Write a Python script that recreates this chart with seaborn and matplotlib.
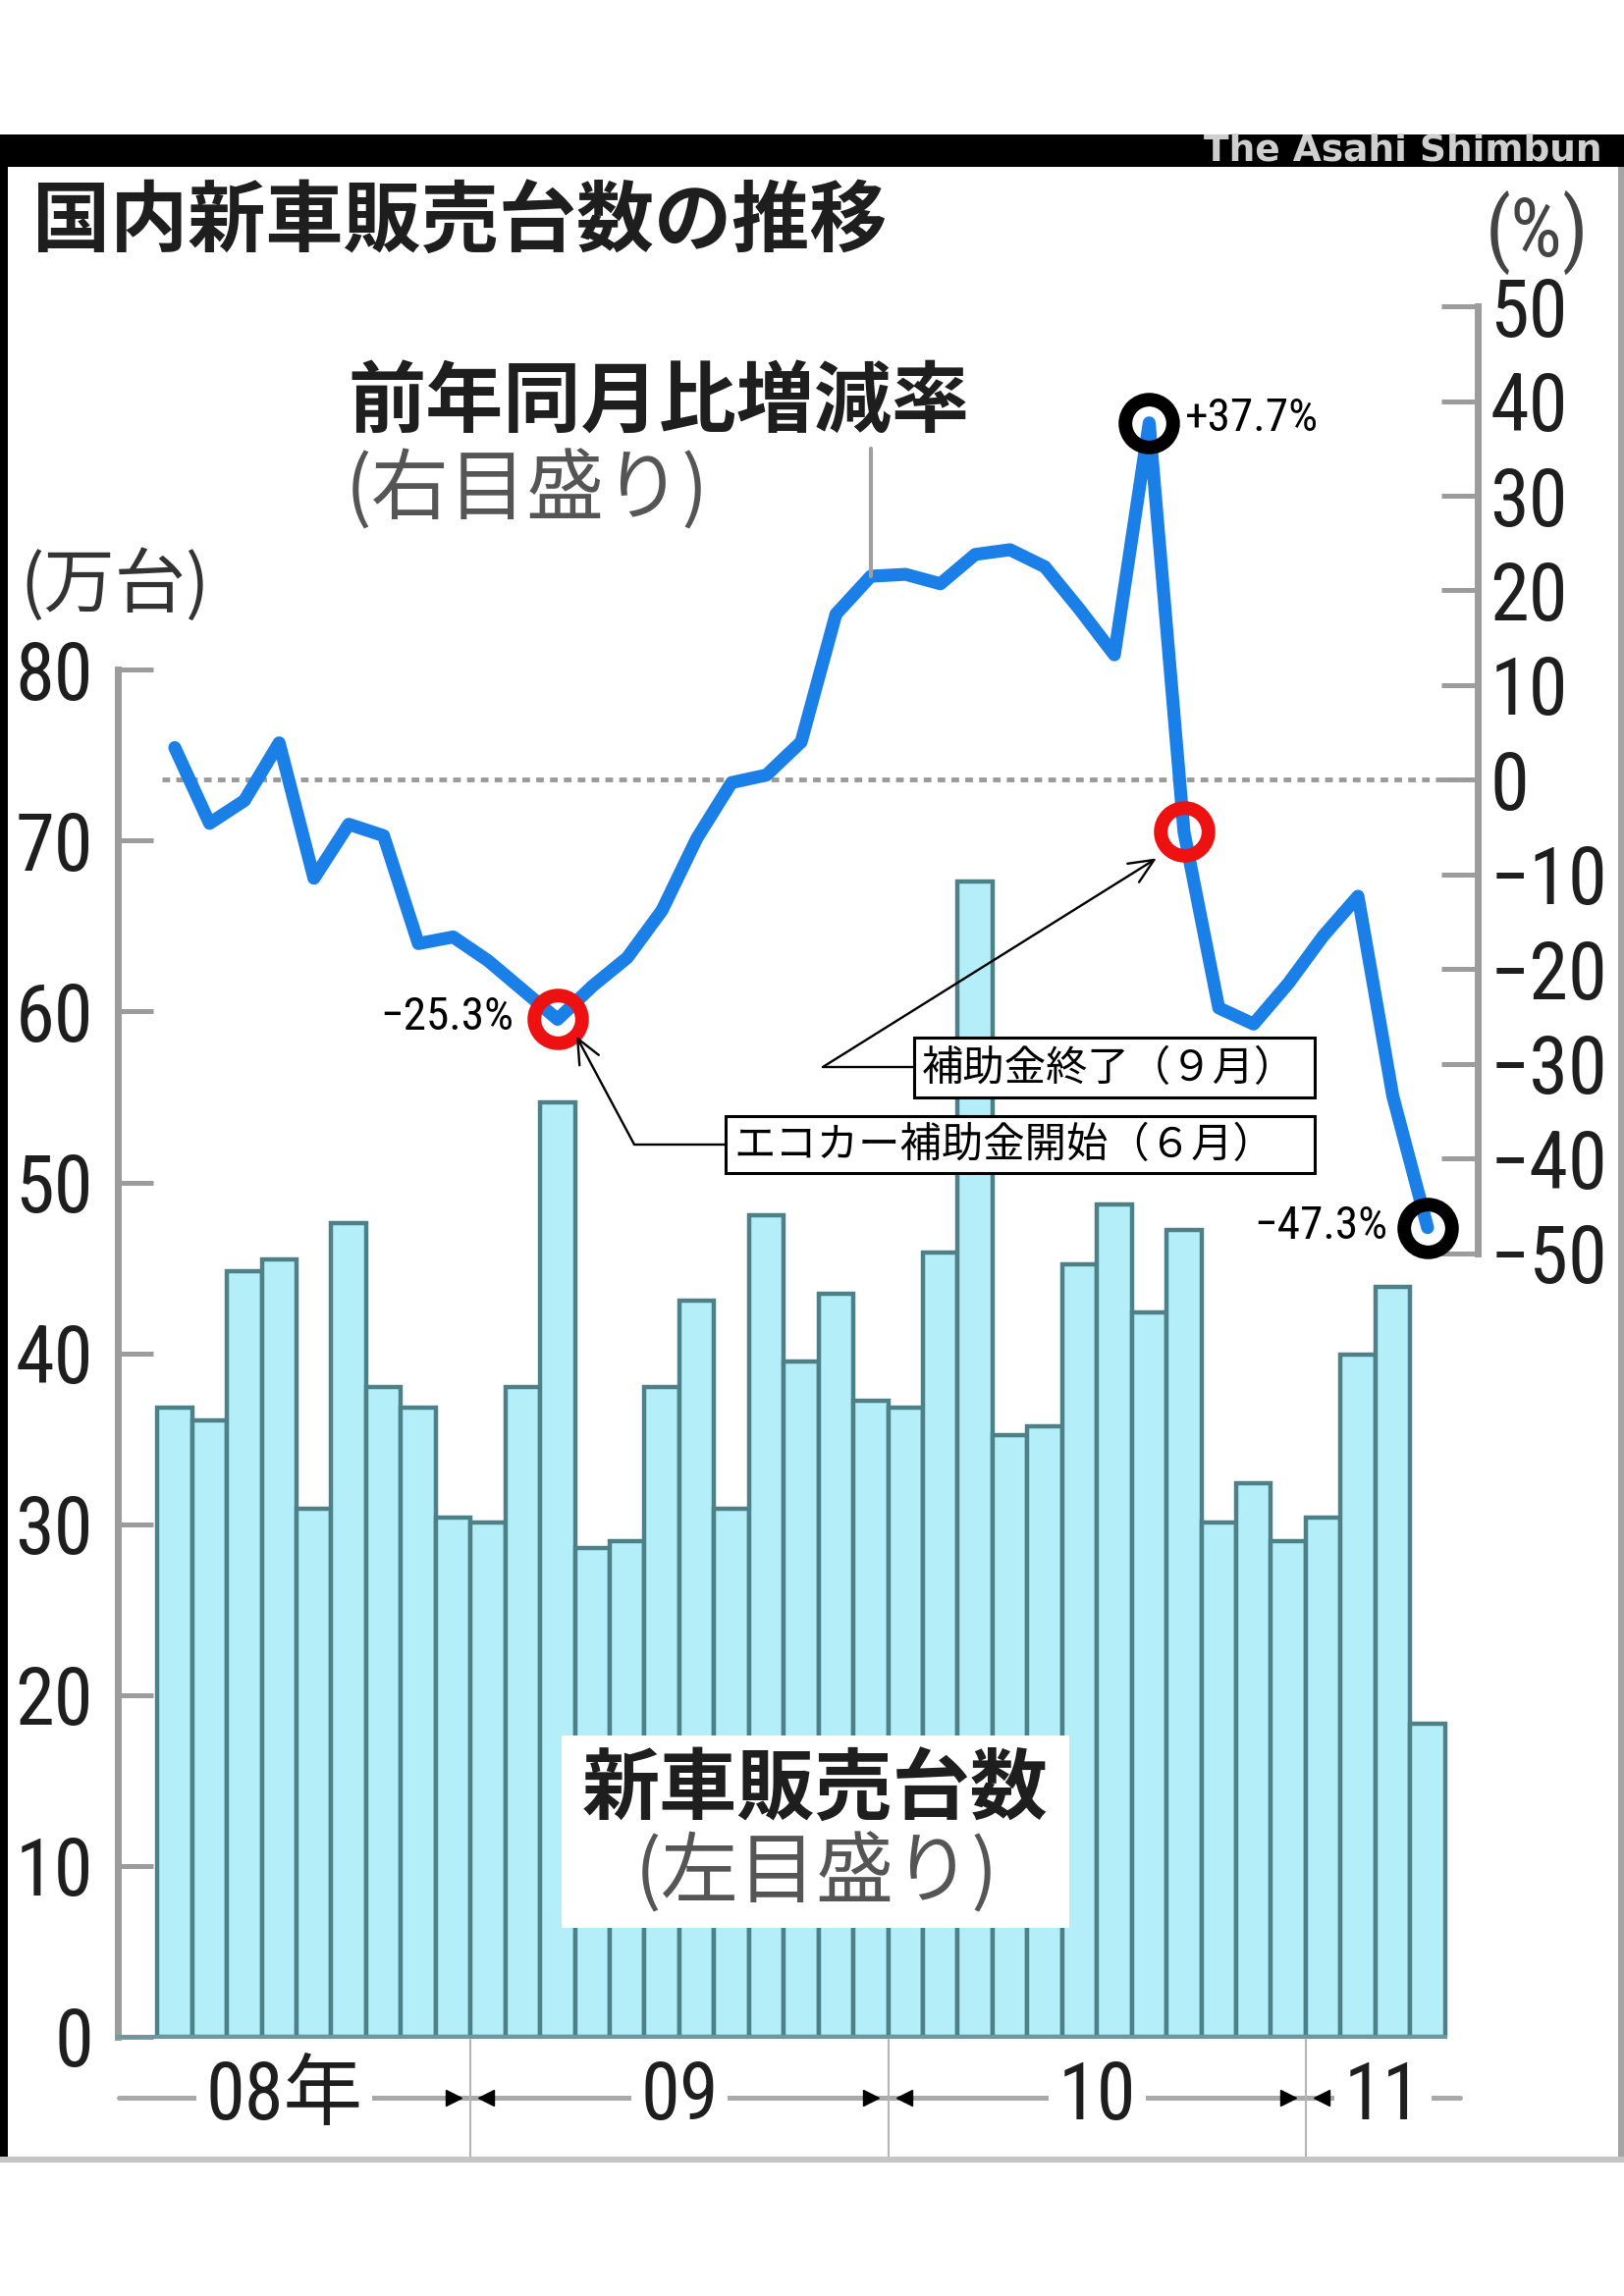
import numpy as np
import pandas as pd
import matplotlib
matplotlib.use("Agg")
import matplotlib.pyplot as plt
import matplotlib.transforms as mtransforms
from matplotlib import font_manager as fm
from matplotlib.patches import Rectangle, FancyArrowPatch
from matplotlib.lines import Line2D
import seaborn as sns

# ---------------- data ----------------
months = ["2008-04", "2008-05", "2008-06", "2008-07", "2008-08", "2008-09",
          "2008-10", "2008-11", "2008-12",
          "2009-01", "2009-02", "2009-03", "2009-04", "2009-05", "2009-06",
          "2009-07", "2009-08", "2009-09", "2009-10", "2009-11", "2009-12",
          "2010-01", "2010-02", "2010-03", "2010-04", "2010-05", "2010-06",
          "2010-07", "2010-08", "2010-09", "2010-10", "2010-11", "2010-12",
          "2011-01", "2011-02", "2011-03", "2011-04"]
# 新車販売台数（万台）
sales = [36.8, 36.1, 44.8, 45.5, 30.9, 47.6, 38.0, 36.8, 30.4,
         30.1, 38.0, 54.7, 28.6, 29.0, 38.0, 43.1, 30.9, 48.1, 39.5, 43.5, 37.2,
         36.8, 45.9, 67.6, 35.2, 35.7, 45.2, 48.7, 42.4, 47.2, 30.1, 32.4, 29.0,
         30.4, 39.9, 43.9, 18.3]
# 前年同月比増減率（%）
yoy = [3.4, -4.6, -2.2, 3.9, -10.4, -4.7, -5.9, -17.3, -16.6,
       -19.1, -22.2, -25.3, -21.8, -18.8, -13.8, -6.2, -0.3, 0.5, 4.0, 17.5, 21.5,
       21.7, 20.7, 23.8, 24.3, 22.5, 18.0, 13.2, 37.7, -5.5, -24.1, -25.8, -21.5,
       -16.5, -12.3, -33.4, -47.3]
left_ticks = [0, 10, 20, 30, 40, 50, 60, 70, 80]
right_ticks = [-50, -40, -30, -20, -10, 0, 10, 20, 30, 40, 50]
year_labels = ["08年", "09", "10", "11"]
red_points = [11, 29]
black_points = [28, 36]
value_label_points = [11, 28, 36]
value_labels = ["\u221225.3%", "+37.7%", "\u221247.3%"]
callout_texts = ["エコカー補助金開始（６月）", "補助金終了（９月）"]
callout_points = [11, 29]
leader_point = 20
title = "国内新車販売台数の推移"
line_label = "前年同月比増減率"
line_sub = "(右目盛り)"
bar_label = "新車販売台数"
bar_sub = "(左目盛り)"
left_unit = "(万台)"
right_unit = "(%)"
credit = "The Asahi Shimbun"

# ---------------- fonts ----------------
sns.set_theme(style="white")


def font_ok(name):
    try:
        fm.findfont(fm.FontProperties(family=name), fallback_to_default=False)
        return True
    except Exception:
        return False


CJK = "Noto Sans CJK JP"
narrow = None
for cand in ["Liberation Sans Narrow", "Roboto Condensed", "Open Sans Condensed"]:
    if font_ok(cand):
        narrow = cand
        break
NUM_SCALE = 1.0
if narrow is None:
    narrow = "Liberation Sans"
    NUM_SCALE = 0.85
NUMFAM = [narrow, CJK, "DejaVu Sans"]
JPFAM = [CJK, "DejaVu Sans"]
plt.rcParams["font.family"] = JPFAM

# ---------------- styles ----------------
BAR_FACE = "#b3eef9"
BAR_EDGE = "#4e8088"
LINE = "#1a80e8"
AXIS_GRAY = "#9c9c9c"
TXT = "#1e1e1e"

W, H = 1654, 2339
fig = plt.figure(figsize=(W / 100, H / 100), dpi=100)
fig.patch.set_facecolor("white")


def fx(x):
    return x / W


def fy(y):
    return 1 - y / H


AX_L, AX_R, AX_T, AX_B = 120, 1505, 310, 2075
ax = fig.add_axes([fx(AX_L), fy(AX_B), (AX_R - AX_L) / W, (AX_B - AX_T) / H])
ax.set_facecolor("white")

n = len(months)
df = pd.DataFrame({"pos": np.arange(n), "month": months,
                   "sales": sales, "yoy": yoy})

sns.barplot(data=df, x="pos", y="sales", orient="x", native_scale=True,
            width=1.0, color=BAR_FACE, saturation=1, edgecolor=BAR_EDGE,
            linewidth=3.2, errorbar=None, ax=ax, zorder=2)

ax2 = ax.twinx()
sns.lineplot(data=df, x="pos", y="yoy", ax=ax2, color=LINE, linewidth=9.5,
             estimator=None, sort=False, zorder=4)
for ln in ax2.get_lines():
    ln.set_solid_joinstyle("round")
    ln.set_solid_capstyle("round")

XLIM = (-1.636, 37.44)
ax.set_xlim(XLIM)
ax2.set_xlim(XLIM)
ax.set_ylim(0, 101.38)
ax2.set_ylim(-132.77, 50.22)

# zero reference line (dotted)
x_zero_start = -0.37
ax2.axhline(0, xmin=(x_zero_start - XLIM[0]) / (XLIM[1] - XLIM[0]), xmax=1,
            color="#9a9a9a", lw=3.5, ls=(0, (1.6, 1.3)), zorder=1)

# highlighted points
pos = df["pos"].to_numpy()
yv = df["yoy"].to_numpy()
ax2.plot(pos[red_points], yv[red_points], ls="none", marker="o", ms=35,
         mfc="none", mec="#ee1111", mew=10, zorder=5)
ax2.plot(pos[black_points], yv[black_points], ls="none", marker="o", ms=35,
         mfc="none", mec="black", mew=10, zorder=5)

offsets = {11: (-45, 2, "right"), 28: (37, 5, "left"), 36: (-41, 2, "right")}
for i, lab in zip(value_label_points, value_labels):
    dx, dy, ha = offsets[i]
    ax2.annotate(lab, xy=(pos[i], yv[i]), xytext=(dx, dy),
                 textcoords="offset pixels", ha=ha, va="center",
                 fontsize=34 * NUM_SCALE, family=NUMFAM, color="black", zorder=6)

# axes / ticks
for a in (ax, ax2):
    a.set_xlabel("")
    a.set_ylabel("")
ax.set_xticks([])
ax.tick_params(axis="x", length=0, bottom=False)
ax.set_yticks(left_ticks, labels=[str(t) for t in left_ticks],
              fontsize=58 * NUM_SCALE, family=NUMFAM, color=TXT)
ax.tick_params(axis="y", direction="in", length=26, width=3.6,
               color=AXIS_GRAY, pad=18, left=True, right=False)
ax2.set_yticks(right_ticks,
               labels=[str(t).replace("-", "\u2212") for t in right_ticks],
               fontsize=58 * NUM_SCALE, family=NUMFAM, color=TXT)
ax2.tick_params(axis="y", direction="in", length=27, width=3.6,
                color=AXIS_GRAY, pad=9, right=True, labelright=True,
                left=False, labelleft=False)

ax.spines["top"].set_visible(False)
ax.spines["right"].set_visible(False)
ax.spines["left"].set_bounds(0, 80)
ax.spines["left"].set_color(AXIS_GRAY)
ax.spines["left"].set_linewidth(5)
ax.spines["bottom"].set_bounds(XLIM[0], n - 0.5)
ax.spines["bottom"].set_color("#6f979c")
ax.spines["bottom"].set_linewidth(3)
for s in ("left", "top", "bottom"):
    ax2.spines[s].set_visible(False)
ax2.spines["right"].set_bounds(-50, 50)
ax2.spines["right"].set_color(AXIS_GRAY)
ax2.spines["right"].set_linewidth(5)

# ---------------- year row below the axis ----------------
def yf(ypx):
    return (AX_B - ypx) / (AX_B - AX_T)


trans = mtransforms.blended_transform_factory(ax.transData, ax.transAxes)
years = [m[:4] for m in months]
bounds = [i - 0.5 for i in range(1, n) if years[i] != years[i - 1]]
ROW_START, ROW_END = -1.61, 36.94
edges = [ROW_START] + bounds + [ROW_END]
label_shift = [-0.3, 0, 0, 0]
yrow = yf(2137)
ax.plot([ROW_START, ROW_END], [yrow, yrow], transform=trans, clip_on=False,
        color="#a9a9a9", lw=3.6, zorder=3)
for b in bounds:
    ax.plot([b, b], [yf(2078), yf(2198)], transform=trans, clip_on=False,
            color="#b4b4b4", lw=1.5, zorder=3)
    ax.plot([b - 0.5], [yrow], transform=trans, clip_on=False, ls="none",
            marker=">", ms=12, color="black", zorder=4)
    ax.plot([b + 0.45], [yrow], transform=trans, clip_on=False, ls="none",
            marker="<", ms=12, color="black", zorder=4)
for k, lab in enumerate(year_labels):
    cx = (edges[k] + edges[k + 1]) / 2 + label_shift[k]
    ax.text(cx, yrow, lab, transform=trans, ha="center", va="center",
            fontsize=58 * NUM_SCALE, family=NUMFAM, color=TXT, clip_on=False,
            zorder=5, bbox=dict(boxstyle="square,pad=0.12", fc="white", ec="none"))

# ---------------- frame ----------------
def rect(x0, y0, x1, y1, **kw):
    r = Rectangle((fx(x0), fy(y1)), (x1 - x0) / W, (y1 - y0) / H,
                  transform=fig.transFigure, **kw)
    fig.add_artist(r)
    return r


rect(0, 137, W, 170, fc="black", ec="none", zorder=1)
rect(0, 137, 8, 2200, fc="black", ec="none", zorder=1)
rect(1648, 170, W, 2200, fc="#a4a4a4", ec="none", zorder=1)
rect(0, 2197, W, 2203, fc="#c4c4c4", ec="none", zorder=1)
fig.text(fx(1632), fy(154), credit, ha="right", va="center",
         fontsize=27, family=["DejaVu Sans"], weight="bold", color="#cfcfcf")

# ---------------- titles & labels ----------------
fig.text(fx(33), fy(226), title, ha="left", va="center", fontsize=57,
         weight="bold", family=JPFAM, color=TXT)
fig.text(fx(1566), fy(237), right_unit, ha="center", va="center",
         fontsize=60 * NUM_SCALE, family=NUMFAM, color="#444444")
fig.text(fx(20), fy(597), left_unit, ha="left", va="center", fontsize=52,
         family=JPFAM, color="#333333")

fig.text(fx(354), fy(410), line_label, ha="left", va="center", fontsize=57,
         weight="bold", family=JPFAM, color=TXT)
fig.text(fx(352), fy(500), line_sub, ha="left", va="center", fontsize=57,
         family=JPFAM, color="#555555")


def data_px(axis, x, y):
    d = axis.transData.transform((x, y))
    return d[0], H - d[1]


lx, ly = data_px(ax2, pos[leader_point], yv[leader_point])
fig.add_artist(Line2D([fx(lx), fx(lx)], [fy(457), fy(ly)],
                      transform=fig.transFigure, color="#a0a0a0", lw=3, zorder=2))

rect(572, 1768, 1089, 1964, fc="white", ec="none", zorder=1)
fig.text(fx(830), fy(1823), bar_label, ha="center", va="center", fontsize=57,
         weight="bold", family=JPFAM, color=TXT)
fig.text(fx(832), fy(1909), bar_sub, ha="center", va="center", fontsize=57,
         family=JPFAM, color="#555555")

# ---------------- callouts ----------------
boxes = [(739, 1137, 1339, 1195), (931, 1057, 1339, 1118)]
corners = [(646, 1166), (838, 1087)]
tip_offsets = [(19, 17), (-28, 27)]
for txt, pi, (x0, y0, x1, y1), (cxp, cyp), (tdx, tdy) in zip(
        callout_texts, callout_points, boxes, corners, tip_offsets):
    rect(x0, y0, x1, y1, fc="white", ec="black", lw=2.2, zorder=3)
    fig.text(fx(x0 + 8), fy((y0 + y1) / 2 + 1), txt, ha="left", va="center",
             fontsize=30.5, family=JPFAM, color="black", zorder=4)
    fig.add_artist(Line2D([fx(x0), fx(cxp)], [fy(cyp), fy(cyp)],
                          transform=fig.transFigure, color="black", lw=1.7,
                          zorder=4))
    px_, py_ = data_px(ax2, pos[pi], yv[pi])
    arr = FancyArrowPatch((fx(cxp), fy(cyp)), (fx(px_ + tdx), fy(py_ + tdy)),
                          transform=fig.transFigure,
                          arrowstyle="->,head_length=0.9,head_width=0.4",
                          mutation_scale=20, lw=1.7, color="black",
                          shrinkA=0, shrinkB=0, zorder=4)
    fig.add_artist(arr)

fig.savefig("out.png", dpi=100, facecolor="white")
